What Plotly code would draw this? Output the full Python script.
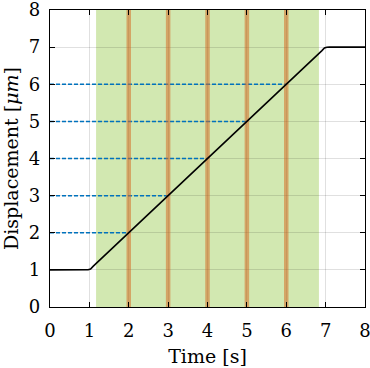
import plotly.graph_objects as go

# Data
time_s = [0, 0.9, 0.97, 1.03, 1.1, 6.9, 6.97, 7.03, 7.1, 8]
displacement_um = [1, 1, 1.005, 1.025, 1.1, 6.9, 6.975, 6.995, 7, 7]
sample_times = [2, 3, 4, 5, 6]
sample_levels = [2, 3, 4, 5, 6]
window_start = 1.17
window_end = 6.83
tick_vals = [0, 1, 2, 3, 4, 5, 6, 7, 8]

FONT = "DejaVu Serif"

fig = go.Figure()

# blue dashed horizontal lines from y-axis to the curve
for lvl, t in zip(sample_levels, sample_times):
    fig.add_trace(go.Scatter(x=[0, t], y=[lvl, lvl], mode="lines",
                             line=dict(color="#0072BD", width=1.5, dash="4px,2px"),
                             showlegend=False, hoverinfo="skip"))

# orange vertical sample lines
for t in sample_times:
    fig.add_trace(go.Scatter(x=[t, t], y=[0, 8], mode="lines",
                             line=dict(color="rgba(214,110,40,0.55)", width=4.5),
                             showlegend=False, hoverinfo="skip"))

# displacement curve
fig.add_trace(go.Scatter(x=time_s, y=displacement_um, mode="lines",
                         line=dict(color="black", width=1.6),
                         showlegend=False, hoverinfo="skip"))

# green window
fig.add_shape(type="rect", xref="x", yref="y", x0=window_start, x1=window_end,
              y0=0, y1=8, fillcolor="rgb(210,232,177)", line=dict(width=0),
              layer="below")

axis_common = dict(
    showgrid=True, gridcolor="rgba(0,0,0,0.12)", gridwidth=1,
    showline=True, linecolor="black", linewidth=1.2, mirror="ticks",
    ticks="inside", ticklen=5, tickcolor="black", tickwidth=1,
    zeroline=False, automargin=False, ticklabeloverflow="allow",
    tickfont=dict(family=FONT, size=18, color="black"),
)

fig.update_xaxes(range=[0, 8], tickvals=tick_vals, ticklabelstandoff=7,
                 title=dict(text="Time [s]", font=dict(family=FONT, size=19, color="black"),
                            standoff=9),
                 **axis_common)
fig.update_yaxes(range=[0, 8], tickvals=tick_vals, ticklabelstandoff=5,
                 title=dict(text="Displacement [<i>μm</i>]",
                            font=dict(family=FONT, size=19, color="black"), standoff=6),
                 **axis_common)

fig.update_layout(
    width=370, height=368,
    margin=dict(l=50, r=5, t=10, b=61),
    plot_bgcolor="white", paper_bgcolor="white",
)

fig.write_html("out.html", config={"displayModeBar": False},
               post_script="document.body.style.margin='0';document.body.style.padding='0';")
